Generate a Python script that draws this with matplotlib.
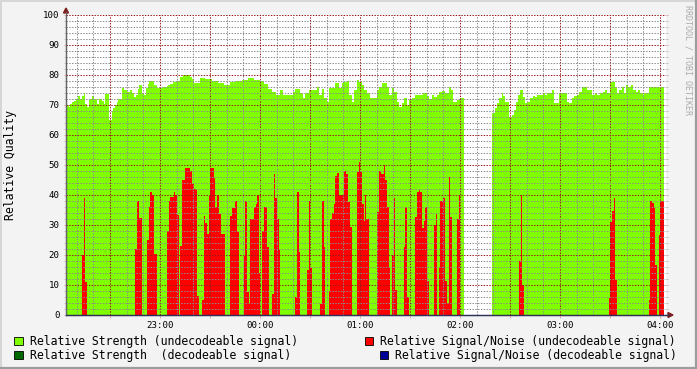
import numpy as np
import matplotlib.pyplot as plt
from matplotlib.patches import Rectangle, Polygon
from matplotlib.lines import Line2D

plt.rcParams['font.family'] = ['DejaVu Sans Mono']

W, H = 697, 369

# step series, time in minutes after 22:00 where each step starts (nan = no data)
strength_t = [3.6, 5.4, 6.0, 7.0, 8.4, 9.6, 10.6, 12.0, 13.4, 14.6,
              15.2, 16.4, 17.6, 19.0, 20.4, 22.0, 23.6, 25.0, 26.2, 27.0,
              29.6, 31.0, 32.0, 33.0, 34.0, 35.0, 36.0, 37.4, 38.6, 40.0,
              42.0, 43.0, 44.6, 45.4, 46.6, 47.6, 49.0, 50.4, 51.4, 52.6,
              53.4, 56.6, 58.0, 62.0, 64.0, 65.0, 66.0, 68.0, 69.4, 72.0,
              74.0, 78.0, 79.0, 80.6, 84.0, 87.0, 91.2, 94.8, 98.4, 102.0,
              105.6, 109.2, 112.8, 116.4, 120.0, 122.4, 124.8, 127.2, 129.6, 132.0,
              133.6, 139.6, 141.0, 144.0, 145.6, 147.0, 149.6, 154.0, 155.6, 157.0,
              158.6, 160.0, 161.6, 165.0, 167.6, 169.0, 170.4, 172.0, 173.4, 175.0,
              176.4, 178.0, 179.4, 181.0, 182.4, 184.0, 186.0, 190.0, 191.6, 193.0,
              196.0, 197.6, 199.0, 200.4, 202.0, 203.6, 205.0, 206.4, 208.0, 209.4,
              211.0, 213.0, 217.6, 220.0, 221.6, 223.0, 224.4, 226.0, 227.6, 229.0,
              231.0, 233.4, 234.4, 236.0, 238.0, 240.0, 242.4, 259.4, 261.0, 262.4,
              263.6, 265.0, 266.0, 267.0, 269.6, 271.0, 272.4, 273.6, 275.0, 276.0,
              277.6, 279.0, 280.4, 282.0, 283.6, 285.0, 286.4, 288.0, 289.6, 291.0,
              292.4, 294.0, 295.4, 296.6, 299.6, 304.0, 305.6, 307.0, 308.4, 310.0,
              311.6, 313.0, 316.0, 319.0, 321.0, 322.4, 324.0, 325.6, 327.0, 328.4,
              330.0, 333.0, 334.4, 335.4, 337.0, 338.4, 339.6, 341.0, 342.4, 344.0,
              345.4, 347.0, 348.0, 349.6, 350.4, 353.6]
strength_v = [70, 69.4, 70.3, 70.9, 71.4, 72, 73, 72.1, 73, 73.9,
              70.2, 69.4, 72.1, 73, 72.1, 70.2, 72, 71.2, 70.3, 73.7,
              65, 68, 69.1, 70, 71.1, 71.9, 72, 75.6, 75, 74.4,
              75, 74.1, 72.8, 73.3, 75.2, 76.7, 73.9, 73.3, 75.8, 77,
              78, 76.7, 75.7, 76, 76.3, 76.7, 77.1, 77.7, 78.1, 79.4,
              79.9, 79.4, 78.7, 77.2, 79, 78.8, 78, 77.5, 76.8, 77.6,
              78, 78.5, 79, 78.4, 78, 77, 75.5, 74.5, 73.5, 75,
              73.3, 74.2, 75.3, 73.9, 72.2, 73.9, 75, 76.1, 73.3, 75.3,
              72.2, 71.1, 75.6, 77.2, 75.6, 77.2, 77.8, 78.1, 73.3, 71.1,
              75, 78.3, 77.8, 76.7, 75, 73.9, 72.2, 75, 76.1, 77.2,
              76.1, 73.3, 75.6, 74.4, 71.1, 69.4, 70.6, 72.2, 70, 71.7,
              72.2, 73.3, 73.9, 73, 71.9, 73.3, 72.8, 73.3, 74.2, 74.7,
              73.9, 76.1, 75, 71.1, 71.7, 72.4, np.nan, 67.2, 68.9, 70.6,
              72.2, 73.9, 73, 71.1, 66.1, 66.7, 68.3, 71.1, 73.3, 75,
              72.8, 70.6, 71.1, 72.2, 73, 72.8, 73.3, 73.3, 73.9, 73.3,
              73.9, 73.9, 75, 70.6, 73.9, 71.1, 70.6, 72.2, 73, 73.3,
              74.4, 76.1, 75, 73.3, 73.9, 73.3, 73.9, 74.4, 75, 73.9,
              77.8, 76.1, 73.9, 75, 76.1, 73.9, 76.7, 76.1, 76.7, 75,
              74.4, 75, 73.9, 73.3, 73.9, 76.1]

snr_t = [3.6, 13.2, 14.4, 15.0, 16.2, 45.0, 46.2, 47.4, 49.2, 52.2,
         53.4, 54.2, 55.0, 56.4, 58.0, 64.2, 65.4, 66.2, 68.4, 69.0,
         70.2, 71.4, 72.0, 73.2, 75.0, 78.0, 79.4, 80.6, 82.2, 83.4,
         85.2, 86.6, 87.2, 88.4, 89.6, 90.2, 92.6, 93.2, 94.4, 95.2,
         95.6, 96.8, 99.0, 102.0, 103.4, 105.0, 106.2, 107.4, 110.4, 111.0,
         112.2, 113.4, 114.0, 116.6, 117.6, 118.4, 119.4, 120.0, 121.2, 122.4,
         124.0, 125.2, 127.2, 128.4, 129.0, 130.0, 131.2, 132.0, 141.0, 142.2,
         143.2, 144.0, 148.2, 149.6, 150.2, 151.2, 156.0, 157.2, 158.2, 159.0,
         161.4, 162.2, 163.4, 164.4, 165.2, 166.2, 167.2, 170.4, 171.6, 173.0,
         174.0, 175.2, 178.2, 179.4, 179.8, 181.0, 182.2, 182.8, 183.8, 185.4,
         190.2, 191.4, 192.6, 194.4, 195.0, 196.2, 197.4, 198.0, 199.2, 200.4,
         201.0, 202.2, 206.4, 207.0, 208.2, 209.4, 213.0, 214.2, 215.2, 216.0,
         217.2, 218.4, 219.2, 220.2, 221.4, 224.4, 225.6, 226.2, 227.4, 228.2,
         229.6, 230.8, 232.0, 233.4, 234.0, 235.2, 238.2, 239.4, 240.0, 275.4,
         276.3, 277.2, 278.4, 329.4, 330.0, 331.2, 332.2, 332.8, 334.2, 353.4,
         354.2, 355.2, 356.4, 357.0, 358.2, 359.4, 360.0]
snr_v = [0, 20, 39.1, 11.1, 0, 22, 38, 32.2, 0, 25,
         36.1, 40.9, 40, 20.3, 0, 28, 38, 39.4, 40.9, 40,
         33.3, 0, 23.1, 45, 48.9, 48, 43.6, 42, 6.2, 0,
         5, 33, 30.6, 27, 39.8, 48.9, 45.8, 36.1, 40, 43.9,
         33.6, 27, 0, 33.1, 35.8, 38, 27.8, 0, 19.8, 38,
         7.8, 3.7, 32, 36.1, 37, 40, 13.9, 0, 28, 36.1,
         22.8, 0, 7, 47, 39.1, 32, 21.7, 0, 6.1, 41.1,
         21.1, 0, 15, 38, 15.6, 0, 3.7, 38, 22.8, 0,
         8, 32, 34, 37, 46.3, 47.4, 40, 48, 47, 37.8,
         29.4, 0, 47.8, 50.9, 47.8, 37, 31.4, 40, 32, 0,
         34.4, 48, 47, 50, 45, 36.1, 15.9, 0, 20, 39.1,
         8.3, 0, 22.8, 36.1, 5.9, 0, 32.8, 41.1, 41.7, 40.9,
         29.1, 31.4, 36.1, 11.4, 0, 30, 33.7, 0, 15.6, 38,
         38.9, 11.4, 4.1, 46.1, 32.7, 0, 32, 40, 0, 18,
         40, 10, 0, 5.8, 31.1, 34.7, 39.1, 11.7, 0, 5,
         38, 37.2, 35.8, 16.7, 0, 26.7, 38]
t_end = 362.4

hour_labels = ['23:00', '00:00', '01:00', '02:00', '03:00', '04:00']

legend_labels = ['Relative Strength (undecodeable signal)',
                 'Relative Signal/Noise (undecodeable signal)',
                 'Relative Strength  (decodeable signal)',
                 'Relative Signal/Noise (decodeable signal)']
legend_colors = ['#80FF00', '#FF0000', '#006600', '#000099']


def fx(x):
    return x / W


def fy(y):
    return 1 - y / H


def step_area(ax, t, v, color):
    edges = np.append(t, t_end)
    x = np.repeat(edges, 2)[1:-1]
    y = np.repeat(np.asarray(v, dtype=float), 2)
    ax.fill_between(x, 0, y, color=color, linewidth=0, antialiased=True, zorder=1)


fig = plt.figure(figsize=(W / 100, H / 100), dpi=100, facecolor='#F3F3F3')
ax = fig.add_axes([fx(66), fy(315), 600 / W, 300 / H])
ax.set_facecolor('white')

step_area(ax, strength_t, strength_v, legend_colors[0])
step_area(ax, snr_t, snr_v, legend_colors[1])

ax.set_xlim(3.6, 363.6)
ax.set_ylim(0, 100)

major_x = np.arange(30, 361, 30)
ax.set_xticks(major_x)
ax.set_xticklabels([hour_labels[int(m) // 60 - 1] if m % 60 == 0 else '' for m in major_x])
ax.set_xticks(np.arange(10, 361, 10), minor=True)
ax.set_yticks(np.arange(0, 101, 10))
ax.set_yticks(np.arange(0, 101, 2), minor=True)

# rrdtool style dotted grid drawn over the areas
ax.set_axisbelow(False)
dots = (0, (1.4, 1.4))
ax.grid(which='minor', color=(0.55, 0.55, 0.55, 0.28), linestyle=dots, linewidth=0.72)
ax.grid(which='major', color=(0.6, 0.1, 0.1, 0.28), linestyle=dots, linewidth=0.72)

ax.tick_params(axis='y', which='both', left=True, right=True, direction='out',
               length=1.5, width=0.72, color='#C0C0C0', labelsize=6.6, pad=3.2)
ax.tick_params(axis='y', which='major', color='#D8AAAA')
ax.tick_params(axis='x', which='major', direction='out', length=2.2, width=0.72,
               color='#D8AAAA', labelsize=6.6, pad=1.8)
ax.tick_params(axis='x', which='minor', length=0)

for side in ['top', 'right']:
    ax.spines[side].set_visible(False)
ax.spines['left'].set_color('#666666')
ax.spines['bottom'].set_color('#30305A')
ax.spines['left'].set_linewidth(0.9)
ax.spines['bottom'].set_linewidth(0.9)

# axis extensions and arrows
fig.add_artist(Line2D([fx(66), fx(66)], [fy(315), fy(12)], color='#666666', lw=0.9))
fig.add_artist(Line2D([fx(66), fx(669)], [fy(315), fy(315)], color='#30305A', lw=0.9))
fig.add_artist(Polygon([(fx(63.5), fy(13)), (fx(68.5), fy(13)), (fx(66), fy(8))],
                       closed=True, color='#7F1F1F', transform=fig.transFigure))
fig.add_artist(Polygon([(fx(668), fy(312.5)), (fx(668), fy(317.5)), (fx(673), fy(315))],
                       closed=True, color='#7F1F1F', transform=fig.transFigure))

fig.text(fx(11), fy(165), 'Relative Quality', rotation=90, ha='center', va='center',
         fontsize=8.3)
fig.text(fx(688), fy(60), 'RRDTOOL / TOBI OETIKER', rotation=270, ha='center',
         va='center', fontsize=6, color='#ABABAB')

# legend
legend_pos = [(14.5, 341), (365, 341), (14.5, 355), (380, 355)]
for (lx, ly), lab, col in zip(legend_pos, legend_labels, legend_colors):
    fig.add_artist(Rectangle((fx(lx), fy(ly + 4)), 8 / W, 8.5 / H, transform=fig.transFigure,
                             facecolor=col, edgecolor='black', lw=0.6))
    fig.text(fx(lx + 15.5), fy(ly), lab, ha='left', va='center', fontsize=8.3)

# frame shading
fig.add_artist(Line2D([0, 1], [fy(0.8), fy(0.8)], color='#D6D6D6', lw=1.4))
fig.add_artist(Line2D([fx(0.8), fx(0.8)], [0, 1], color='#D6D6D6', lw=1.4))
fig.add_artist(Line2D([0, 1], [fy(368), fy(368)], color='#9C9C9C', lw=1.6))
fig.add_artist(Line2D([fx(696), fx(696)], [0, 1], color='#9C9C9C', lw=1.6))

fig.savefig('out.png', dpi=100, facecolor=fig.get_facecolor())
